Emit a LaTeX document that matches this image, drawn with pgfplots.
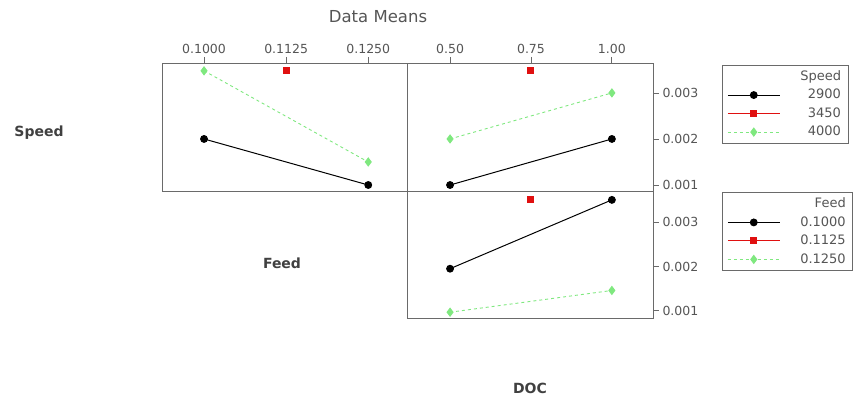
\documentclass[border=0pt]{standalone}
\usepackage{pgfplots}
\pgfplotsset{compat=1.18}
\usepackage{fontspec}
\setmainfont{DejaVu Sans}
\definecolor{axgray}{HTML}{6A6A6A}
\definecolor{txtgray}{HTML}{555555}
\definecolor{lgreen}{HTML}{7FE87F}
\definecolor{mred}{HTML}{E01010}
\pgfplotsset{
  panel/.style={
    scale only axis,
    scaled y ticks=false, scaled x ticks=false,
    axis line style={axgray, line width=0.9pt},
    tick style={axgray, line width=0.8pt},
    tick align=outside,
    major tick length=6pt,
    ticklabel style={font=\fontsize{12.5}{14}\selectfont, text=txtgray},
    clip=false,
    legend cell align=right,
    legend image code/.code={
      \draw[mark repeat=2,mark phase=2,##1] plot coordinates {(0pt,0pt) (26pt,0pt) (52pt,0pt)};
    },
    legend style={
      draw=axgray, line width=0.8pt, anchor=north west,
      font=\fontsize{13}{15}\selectfont, text=txtgray,
      inner xsep=5pt, inner ysep=2pt,
      row sep=0pt,
      nodes={text height=10pt, text depth=2.5pt, inner ysep=3pt},
      /tikz/every odd column/.append style={column sep=18pt},
    },
  },
  blk/.style={black, solid, line width=1pt, mark=*, mark size=3.4pt, mark options={solid}},
  rd/.style={mred, solid, line width=1pt, mark=square*, mark size=3pt, mark options={solid}},
  gr/.style={lgreen, dashed, line width=0.9pt, mark=diamond*, mark size=4pt, mark options={solid}},
}
\begin{document}
\begin{tikzpicture}
\path (0,0) rectangle (856pt,398pt);
% Panel 1: Speed x Feed
\begin{axis}[panel, at={(162pt,207pt)}, anchor=south west,
  width=245pt, height=128pt,
  xmin=0.0936, xmax=0.1309, ymin=0.00087, ymax=0.00365,
  xtick={0.1,0.1125,0.125}, xticklabels={0.1000,0.1125,0.1250},
  xtick pos=upper, xticklabel pos=upper, ytick=\empty]
\addplot[blk] coordinates {(0.1,0.002) (0.125,0.001)};
\addplot[rd] coordinates {(0.1125,0.00348)};
\addplot[gr] coordinates {(0.1,0.00348) (0.125,0.0015)};
\end{axis}
% Panel 2: Speed x DOC
\begin{axis}[panel, at={(407pt,207pt)}, anchor=south west,
  width=246pt, height=128pt,
  xmin=0.367, xmax=1.127, ymin=0.00087, ymax=0.00365,
  xtick={0.5,0.75,1.0}, xticklabels={0.50,0.75,1.00},
  xtick pos=upper, xticklabel pos=upper,
  ytick={0.001,0.002,0.003}, yticklabels={0.001,0.002,0.003},
  ytick pos=right, yticklabel pos=right,
  legend style={at={(1.28,0.985)}}]
\addlegendimage{empty legend}\addlegendentry{Speed}
\addplot[blk] coordinates {(0.5,0.001) (1.0,0.002)};
\addlegendentry{2900}
\addplot[rd] coordinates {(0.75,0.00348)};
\addlegendentry{3450}
\addplot[gr] coordinates {(0.5,0.002) (1.0,0.003)};
\addlegendentry{4000}
\end{axis}
% Panel 3: Feed x DOC
\begin{axis}[panel, at={(407pt,80pt)}, anchor=south west,
  width=246pt, height=127pt,
  xmin=0.367, xmax=1.127, ymin=0.00084, ymax=0.0037,
  xtick=\empty,
  ytick={0.001,0.002,0.003}, yticklabels={0.001,0.002,0.003},
  ytick pos=right, yticklabel pos=right,
  legend style={at={(1.28,0.99)}}]
\addlegendimage{empty legend}\addlegendentry{Feed}
\addplot[blk] coordinates {(0.5,0.00195) (1.0,0.0035)};
\addlegendentry{0.1000}
\addplot[rd] coordinates {(0.75,0.0035)};
\addlegendentry{0.1125}
\addplot[gr] coordinates {(0.5,0.00097) (1.0,0.00146)};
\addlegendentry{0.1250}
\end{axis}
\node[text=txtgray, font=\fontsize{16.5}{19}\selectfont] at (378pt,381pt) {Data Means};
\node[text=black!75, font=\bfseries\fontsize{14}{16}\selectfont] at (39pt,265pt) {Speed};
\node[text=black!75, font=\bfseries\fontsize{14}{16}\selectfont] at (282pt,135pt) {Feed};
\node[text=black!75, font=\bfseries\fontsize{14}{16}\selectfont] at (530pt,10pt) {DOC};
\end{tikzpicture}
\end{document}
